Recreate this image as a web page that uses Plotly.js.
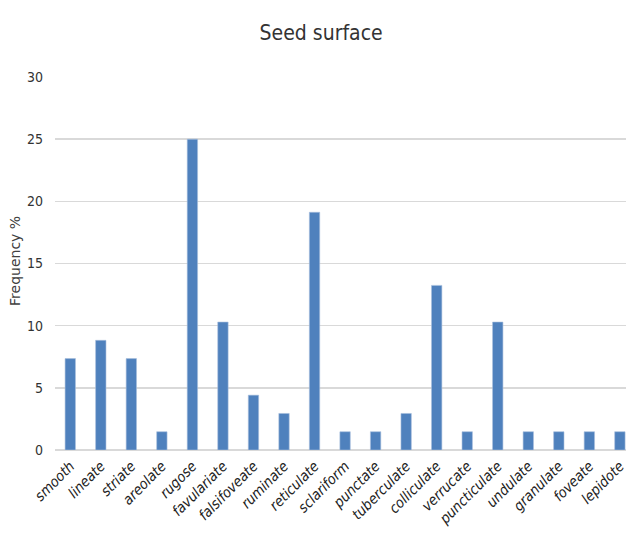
<!DOCTYPE html>
<html>
<head>
<meta charset="utf-8">
<script src="https://cdn.plot.ly/plotly-3.0.1.min.js"></script>
<style>html,body{margin:0;padding:0;background:#fff;}#chart{width:626px;height:545px;}</style>
</head>
<body>
<div id="chart"></div>
<script>
const categories = ["smooth","lineate","striate","areolate","rugose","favulariate","falsifoveate","ruminate","reticulate","sclariform","punctate","tuberculate","colliculate","verrucate","puncticulate","undulate","granulate","foveate","lepidote"];
const frequency = [7.35, 8.82, 7.35, 1.47, 25.0, 10.29, 4.41, 2.94, 19.12, 1.47, 1.47, 2.94, 13.24, 1.47, 10.29, 1.47, 1.47, 1.47, 1.47];
const yTicks = [0, 5, 10, 15, 20, 25, 30];

const narrow = "'Liberation Sans Narrow', 'DejaVu Sans Condensed', sans-serif";

Plotly.newPlot('chart', [{
  type: 'bar',
  x: categories,
  y: frequency,
  marker: {color: '#4f81bd', line: {color: '#a9c0de', width: 0.6}},
  hoverinfo: 'skip'
}], {
  width: 626, height: 545,
  margin: {l: 55, r: 0, t: 77, b: 95},
  paper_bgcolor: '#fff', plot_bgcolor: '#fff',
  bargap: 0.66,
  showlegend: false,
  title: {
    text: 'Seed surface',
    font: {family: narrow, size: 21, color: '#333333'},
    x: 0.513, xref: 'container', xanchor: 'center',
    y: 0.941, yref: 'container', yanchor: 'middle'
  },
  xaxis: {
    range: [-0.5, 18.2],
    tickangle: -45,
    tickfont: {family: narrow, size: 14.5, color: '#222', style: 'italic'},
    showgrid: false,
    showline: false,
    ticks: '',
    ticklabelstandoff: 4,
    automargin: false
  },
  yaxis: {
    range: [0, 30],
    tickvals: yTicks,
    ticktext: yTicks.map(String),
    tickfont: {family: narrow, size: 14, color: '#333'},
    gridcolor: '#d9d9d9', gridwidth: 1.5,
    zeroline: true, zerolinecolor: '#d9d9d9', zerolinewidth: 1.5,
    showline: false,
    ticks: '',
    ticklabelstandoff: 11,
    automargin: false
  },
  annotations: [{
    text: 'Frequency %',
    xref: 'paper', yref: 'paper',
    x: -0.0700, y: 0.507,
    xanchor: 'center', yanchor: 'middle',
    textangle: -90, showarrow: false,
    font: {family: 'DejaVu Sans, sans-serif', size: 14, color: '#404040'}
  }]
}, {displayModeBar: false, staticPlot: true});
</script>
</body>
</html>
